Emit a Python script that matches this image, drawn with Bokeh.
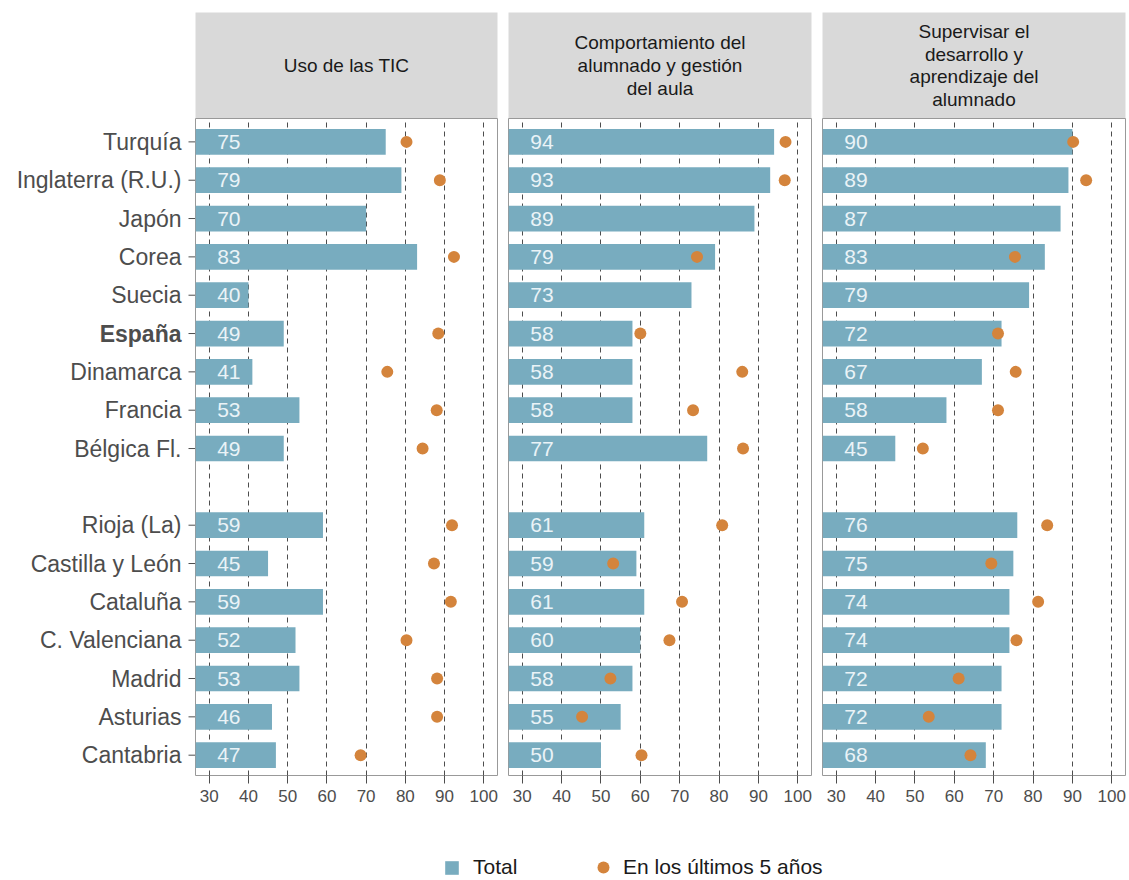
import numpy as np
from bokeh.plotting import figure
from bokeh.models import (ColumnDataSource, Range1d, FixedTicker, Spacer,
                          Legend, LegendItem)
from bokeh.layouts import row, column
from bokeh.embed import file_html
from bokeh.resources import INLINE
from bokeh.core.properties import value

NaN = float("nan")

# ---------------- data ----------------
regions = ["Turquía", "Inglaterra (R.U.)", "Japón", "Corea", "Suecia", "España",
           "Dinamarca", "Francia", "Bélgica Fl.",
           "Rioja (La)", "Castilla y León", "Cataluña", "C. Valenciana",
           "Madrid", "Asturias", "Cantabria"]
n_countries = 9  # a blank row separates countries from Spanish regions

panel_titles = ["Uso de las TIC",
                "Comportamiento del\nalumnado y gestión\ndel aula",
                "Supervisar el\ndesarrollo y\naprendizaje del\nalumnado"]

total_tic = [75, 79, 70, 83, 40, 49, 41, 53, 49, 59, 45, 59, 52, 53, 46, 47]
recent_tic = [80.3, 88.8, NaN, 92.4, NaN, 88.4, 75.4, 88.0, 84.4,
              91.9, 87.3, 91.6, 80.3, 88.1, 88.1, 68.6]

total_aula = [94, 93, 89, 79, 73, 58, 58, 58, 77, 61, 59, 61, 60, 58, 55, 50]
recent_aula = [96.9, 96.7, NaN, 74.4, NaN, 60.0, 85.9, 73.4, 86.1,
               80.8, 53.1, 70.6, 67.4, 52.4, 45.2, 60.3]

total_sup = [90, 89, 87, 83, 79, 72, 67, 58, 45, 76, 75, 74, 74, 72, 72, 68]
recent_sup = [90.2, 93.5, NaN, 75.4, NaN, 71.1, 75.6, 71.1, 52.0,
              83.6, 69.4, 81.3, 75.8, 61.1, 53.5, 64.1]

x_ticks = [30, 40, 50, 60, 70, 80, 90, 100]
legend_labels = ["Total", "En los últimos 5 años"]

totals = [total_tic, total_aula, total_sup]
recents = [recent_tic, recent_aula, recent_sup]

# ---------------- style ----------------
FONT = "Liberation Sans"
BAR = "#78acbf"
DOT = "#d4843c"
STRIP_BG = "#d9d9d9"
GRID = "#4d4d4d"
TXT = "#4d4d4d"

LABEL_W = 195
STRIP_FRAME_H = 106
STRIP_TOP = 12
FRAME_H = 657
BOTTOM = 40
LEG_H = 65
panel_geo = [(0, 302, 5), (6, 303, 5), (6, 303, 3)]  # left border, frame width, right border

n_slots = len(regions) + 1
slots = [i if i < n_countries else i + 1 for i in range(len(regions))]
ypos = [n_slots - 1 - s for s in slots]
y_range = Range1d(-0.53, n_slots - 1 + 0.61)

# ---------------- strips ----------------
strips = [Spacer(width=LABEL_W, height=STRIP_TOP + STRIP_FRAME_H)]
for title, (lb, fw, rb) in zip(panel_titles, panel_geo):
    s = figure(width=lb + fw + rb, height=STRIP_TOP + STRIP_FRAME_H,
               x_range=Range1d(0, 1), y_range=Range1d(0, 1),
               x_axis_location=None, y_axis_location=None,
               toolbar_location=None, output_backend="svg", tools="")
    s.min_border_left = lb
    s.min_border_right = rb
    s.min_border_top = STRIP_TOP
    s.min_border_bottom = 0
    s.background_fill_color = STRIP_BG
    s.outline_line_color = None
    s.grid.visible = False
    s.text(x=[0.5], y=[0.5], text=[title], text_align="center",
           text_baseline="middle", text_font=value(FONT),
           text_font_size="19px", text_color="#1a1a1a", text_line_height=1.08)
    strips.append(s)

# ---------------- row labels (with tick marks), x in pixel units ----------------
lab = figure(width=LABEL_W, height=FRAME_H + BOTTOM, x_range=Range1d(-LABEL_W, 0),
             y_range=y_range, x_axis_location=None, y_axis_location=None,
             toolbar_location=None, output_backend="svg", tools="")
lab.min_border_left = 0
lab.min_border_right = 0
lab.min_border_top = 0
lab.min_border_bottom = BOTTOM
lab.outline_line_color = None
lab.grid.visible = False
lab_src = ColumnDataSource(dict(
    y=ypos, name=regions,
    style=["bold" if r == "España" else "normal" for r in regions]))
lab.segment(x0=-7, y0="y", x1=0, y1="y", source=lab_src,
            line_color=GRID, line_width=1)
lab.text(x=0, y="y", text="name", source=lab_src, text_align="right",
         text_baseline="middle", x_offset=-14, text_font=value(FONT),
         text_font_size="23px", text_color=TXT, text_font_style="style")

# ---------------- panels ----------------
panels = [lab]
for k, (tot, rec, (lb, fw, rb)) in enumerate(zip(totals, recents, panel_geo)):
    p = figure(width=lb + fw + rb, height=FRAME_H + BOTTOM,
               x_range=Range1d(26.5, 103.5), y_range=y_range,
               y_axis_location=None,
               toolbar_location=None, output_backend="svg", tools="")
    p.min_border_left = lb
    p.min_border_right = rb
    p.min_border_top = 0
    p.min_border_bottom = BOTTOM
    p.outline_line_color = "#999999"
    p.outline_line_width = 1
    p.ygrid.visible = False
    p.xgrid.ticker = FixedTicker(ticks=x_ticks)
    p.xgrid.grid_line_color = GRID
    p.xgrid.grid_line_dash = "5 4"
    p.xgrid.grid_line_width = 1

    ax = p.xaxis[0]
    ax.ticker = FixedTicker(ticks=x_ticks)
    ax.axis_line_color = None
    ax.major_tick_out = 8
    ax.major_tick_in = 0
    ax.major_tick_line_color = GRID
    ax.minor_tick_line_color = None
    ax.major_label_standoff = 6
    ax.major_label_text_font = FONT
    ax.major_label_text_font_size = "17px"
    ax.major_label_text_color = TXT

    src = ColumnDataSource(dict(y=ypos, total=tot, recent=np.array(rec, dtype=float),
                                lab=[str(v) for v in tot]))
    p.hbar(y="y", right="total", left=0, height=0.67, source=src,
           fill_color=BAR, line_color=None)
    p.text(x=35, y="y", text="lab", source=src, text_align="center",
           text_baseline="middle", text_font=value(FONT), text_font_size="21px",
           text_color="#eaf3f7")
    p.scatter(x="recent", y="y", source=src, size=12, fill_color=DOT,
              line_color=None)
    panels.append(p)

# ---------------- legend ----------------
lg = figure(width=1128, height=LEG_H, x_range=Range1d(0, 1), y_range=Range1d(0, 1),
            x_axis_location=None, y_axis_location=None,
            toolbar_location=None, output_backend="svg", tools="")
lg.min_border_left = 0
lg.min_border_right = 0
lg.min_border_top = 0
lg.min_border_bottom = 0
lg.outline_line_color = None
lg.grid.visible = False
# one undrawable (NaN) row each, so the legend has something to sample
r1 = lg.hbar(y=[NaN], right=[NaN], height=0.5, fill_color=BAR, line_color=None)
r2 = lg.scatter(x=[NaN], y=[NaN], size=12, fill_color=DOT, line_color=None)

common = dict(orientation="horizontal", padding=0, margin=0, border_line_color=None,
              background_fill_alpha=0, label_text_font=FONT,
              label_text_font_size="21px", label_text_color="#1a1a1a")
leg1 = Legend(items=[LegendItem(label=legend_labels[0], renderers=[r1])],
              location=(443, 1), glyph_width=17, glyph_height=17,
              label_standoff=13, **common)
leg2 = Legend(items=[LegendItem(label=legend_labels[1], renderers=[r2])],
              location=(588, -2), glyph_width=30, glyph_height=30,
              label_standoff=5, **common)
lg.add_layout(leg1)
lg.add_layout(leg2)

layout = column(row(*strips), row(*panels), lg)

open("out.html", "w").write(file_html(layout, INLINE))
